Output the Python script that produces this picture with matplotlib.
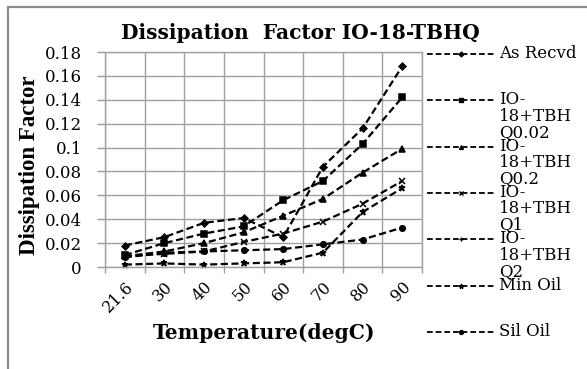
import numpy as np
import matplotlib
matplotlib.use("Agg")
import matplotlib.pyplot as plt
from matplotlib.lines import Line2D
from matplotlib.patches import Rectangle
from matplotlib.ticker import FuncFormatter, FixedLocator

categories = ["21.6", "30", "40", "50", "60", "70", "80", "90"]
series_names = ["As Recvd", "IO-\n18+TBH\nQ0.02", "IO-\n18+TBH\nQ0.2", "IO-\n18+TBH\nQ1",
                "IO-\n18+TBH\nQ2", "Min Oil", "Sil Oil"]
as_recvd = [0.018, 0.025, 0.037, 0.041, 0.025, 0.084, 0.116, 0.168]
tbhq_002 = [0.010, 0.020, 0.028, 0.034, 0.056, 0.072, 0.103, 0.142]
tbhq_02 = [0.009, 0.013, 0.020, 0.029, 0.043, 0.057, 0.079, 0.099]
tbhq_1 = [0.009, 0.011, 0.013, 0.021, 0.028, 0.038, 0.053, 0.072]
tbhq_2 = [np.nan] * 8
min_oil = [0.002, 0.003, 0.002, 0.003, 0.004, 0.012, 0.046, 0.066]
sil_oil = [0.008, 0.012, 0.013, 0.014, 0.015, 0.019, 0.023, 0.033]
y_ticks = [0, 0.02, 0.04, 0.06, 0.08, 0.1, 0.12, 0.14, 0.16, 0.18]

all_series = [as_recvd, tbhq_002, tbhq_02, tbhq_1, tbhq_2, min_oil, sil_oil]
markers = ["D", "s", "^", "x", "+", "*", "o"]
msizes = [3.5, 4.5, 4, 4.5, 5, 5, 4]

serif = "DejaVu Serif"
fig = plt.figure(figsize=(5.87, 3.69), dpi=100)
W, H = 587, 369

# outer chart border
fig.add_artist(Rectangle((8 / W, -0.1), 1.2, (H - 7) / H + 0.1, transform=fig.transFigure,
                         fill=False, edgecolor="#8c8c8c", linewidth=1.6))

ax = fig.add_axes([105 / W, 1 - 267 / H, (422 - 105) / W, (267 - 52) / H])
x = np.arange(len(categories))
for vals, m, ms in zip(all_series, markers, msizes):
    ax.plot(x, vals, color="black", linestyle=(0, (3.2, 1.6)), linewidth=1.6,
            marker=m, markersize=ms, markeredgewidth=1.1, clip_on=False)

ax.set_xlim(-0.5, len(categories) - 0.5)
ax.set_ylim(0, 0.18)
ax.set_xticks(x)
ax.set_xticklabels(categories, rotation=45, fontfamily=serif, fontsize=11.5)
ax.xaxis.set_minor_locator(FixedLocator(np.arange(-0.5, len(categories), 1.0)))
ax.tick_params(axis="x", which="major", length=0, pad=8)
ax.tick_params(axis="x", which="minor", length=4, color="#a0a0a0", width=1)
for lbl in ax.get_xticklabels():
    lbl.set_ha("right")
    lbl.set_va("top")
    lbl.set_rotation_mode("anchor")
ax.set_yticks(y_ticks)
ax.yaxis.set_major_formatter(FuncFormatter(lambda v, p: ("%g" % round(v, 2))))
ax.tick_params(axis="y", which="major", length=5.8, color="#a0a0a0", width=1, pad=10.8,
               labelsize=12)
for lbl in ax.get_yticklabels():
    lbl.set_fontfamily(serif)
ax.grid(True, axis="y", which="major", color="#a0a0a0", linewidth=1)
ax.grid(True, axis="x", which="minor", color="#a0a0a0", linewidth=1)
ax.set_axisbelow(True)
for s in ax.spines.values():
    s.set_color("#a0a0a0")
    s.set_linewidth(1)

fig.text(300 / W, 1 - 33 / H, "Dissipation  Factor IO-18-TBHQ", ha="center", va="center",
         fontfamily=serif, fontweight="bold", fontsize=14.5)
fig.text(264 / W, 1 - 333 / H, "Temperature(degC)", ha="center", va="center",
         fontfamily=serif, fontweight="bold", fontsize=14.6)
fig.text(30 / W, 1 - 165 / H, "Dissipation Factor", ha="center", va="center", rotation=90,
         fontfamily="Liberation Serif", fontweight="bold", fontsize=16.5)

# legend
x0, x1 = 427 / W, 495 / W
for i, (name, m, ms) in enumerate(zip(series_names, markers, msizes)):
    ypx = 54 + i * 46.3
    yp = 1 - ypx / H
    fig.add_artist(Line2D([x0, (x0 + x1) / 2, x1], [yp, yp, yp], transform=fig.transFigure,
                          color="black", linestyle=(0, (3.2, 1.6)), linewidth=1.3,
                          marker=m, markersize=ms * 0.7, markevery=[1]))
    fig.text(499 / W, 1 - (ypx - 9) / H, name, ha="left", va="top", fontfamily=serif,
             fontsize=12, linespacing=0.95)

fig.savefig("out.png", dpi=100)
